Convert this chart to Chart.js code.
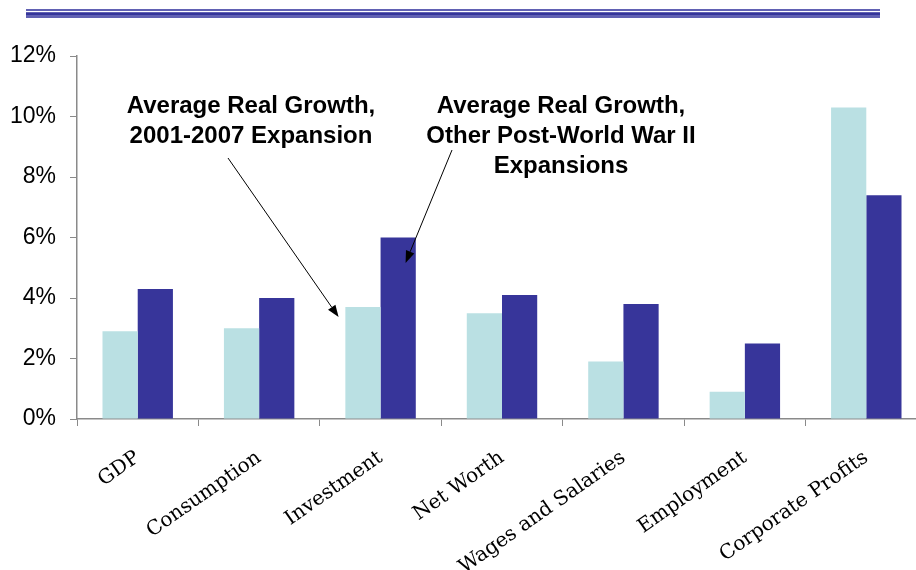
<!DOCTYPE html>
<html>
<head>
<meta charset="utf-8">
<script src="https://cdn.jsdelivr.net/npm/chart.js@4"></script>
<style>
  html, body { margin: 0; padding: 0; background: #fff; overflow: hidden; }
  #frame { position: relative; width: 916px; height: 570px; overflow: hidden; }
  #chart { position: absolute; left: 0; top: 0; }
</style>
</head>
<body>
<div id="frame">
  <canvas id="chart" width="930" height="570"></canvas>
</div>
<script>
(function() {
    'use strict';

    var categories = ['GDP', 'Consumption', 'Investment', 'Net Worth', 'Wages and Salaries', 'Employment', 'Corporate Profits'];
    var growth2001 = [2.9, 3.0, 3.7, 3.5, 1.9, 0.9, 10.3];
    var growthOther = [4.3, 4.0, 6.0, 4.1, 3.8, 2.5, 7.4];
    var yTicks = [0, 2, 4, 6, 8, 10, 12];

    var labelLeft = ['Average Real Growth,', '2001-2007 Expansion'];
    var labelRight = ['Average Real Growth,', 'Other Post-World War II', 'Expansions'];

    function arrow(ctx, x1, y1, x2, y2) {
        var a = Math.atan2(y2 - y1, x2 - x1);
        var len = 12, w = 4.5;
        ctx.beginPath();
        ctx.moveTo(x1, y1);
        ctx.lineTo(x2 - Math.cos(a) * len, y2 - Math.sin(a) * len);
        ctx.stroke();
        ctx.beginPath();
        ctx.moveTo(x2, y2);
        ctx.lineTo(x2 - Math.cos(a) * len + Math.sin(a) * w, y2 - Math.sin(a) * len - Math.cos(a) * w);
        ctx.lineTo(x2 - Math.cos(a) * len - Math.sin(a) * w, y2 - Math.sin(a) * len + Math.cos(a) * w);
        ctx.closePath();
        ctx.fill();
    }

    // header rules and the two callouts
    var decor = {
        id: 'decor',
        afterDraw: function(chart) {
            var ctx = chart.ctx;
            var x = chart.scales.x, y = chart.scales.y;
            ctx.save();

            ctx.fillStyle = '#8f8fcc';
            ctx.fillRect(26, 9, 854, 2);
            ctx.fillRect(26, 12, 854, 4);
            ctx.fillRect(26, 16, 854, 2);
            ctx.fillStyle = '#35359a';
            ctx.fillRect(26, 9.5, 854, 1);
            ctx.fillRect(26, 12.5, 854, 3);
            ctx.fillRect(26, 16.5, 854, 1);

            ctx.fillStyle = '#000';
            ctx.font = 'bold 24px "Liberation Sans", Arial, sans-serif';
            ctx.textAlign = 'center';
            ctx.textBaseline = 'middle';
            labelLeft.forEach(function(t, i) { ctx.fillText(t, 251, 106 + i * 30); });
            labelRight.forEach(function(t, i) { ctx.fillText(t, 561, 106 + i * 30); });

            ctx.strokeStyle = '#000';
            ctx.lineWidth = 1;
            var inv = x.getPixelForValue(2);
            arrow(ctx, 228, 158, inv - 42, y.getPixelForValue(3.37));
            arrow(ctx, 452, 150, inv + 25, y.getPixelForValue(5.16));
            ctx.restore();
        }
    };

    var ctx = document.getElementById('chart');
    new Chart(ctx, {
        type: 'bar',
        data: {
            labels: categories,
            datasets: [
                {
                    label: 'Average Real Growth, 2001-2007 Expansion',
                    data: growth2001,
                    backgroundColor: '#bae0e3',
                    borderWidth: 0,
                    categoryPercentage: 0.58,
                    barPercentage: 1
                },
                {
                    label: 'Average Real Growth, Other Post-World War II Expansions',
                    data: growthOther,
                    backgroundColor: '#37359a',
                    borderWidth: 0,
                    categoryPercentage: 0.58,
                    barPercentage: 1
                }
            ]
        },
        options: {
            responsive: false,
            animation: false,
            devicePixelRatio: 1,
            layout: { padding: { left: 0, right: 3, top: 56, bottom: 0 } },
            plugins: {
                legend: { display: false },
                tooltip: { enabled: false }
            },
            scales: {
                x: {
                    grid: { display: true, drawOnChartArea: false, tickLength: 7, color: '#8a8a8a', offset: true },
                    border: { color: '#8a8a8a', width: 1.5 },
                    ticks: {
                        color: '#000',
                        font: { family: '"DejaVu Serif", serif', size: 20 },
                        maxRotation: 35,
                        minRotation: 35,
                        padding: 20
                    },
                    afterFit: function(s) { s.height = 151; }
                },
                y: {
                    min: 0,
                    max: 12,
                    afterBuildTicks: function(s) { s.ticks = yTicks.map(function(v) { return { value: v }; }); },
                    grid: { display: true, drawOnChartArea: false, tickLength: 7, color: '#8a8a8a' },
                    border: { color: '#8a8a8a', width: 1.5 },
                    ticks: {
                        color: '#000',
                        font: { family: '"Liberation Sans", Arial, sans-serif', size: 23 },
                        padding: 14,
                        callback: function(v) { return v + '%'; }
                    },
                    afterFit: function(s) { s.width = 77; }
                }
            }
        },
        plugins: [decor]
    });
})();
</script>
</body>
</html>
